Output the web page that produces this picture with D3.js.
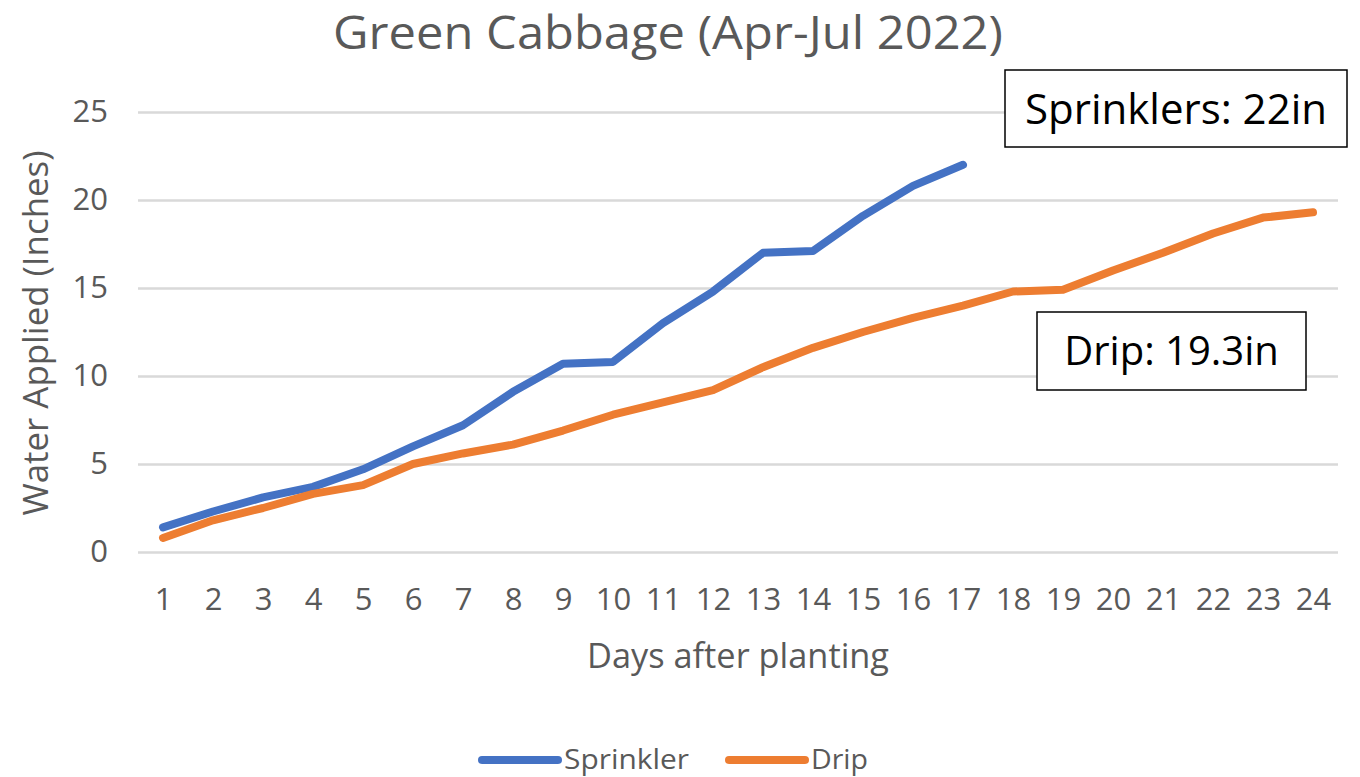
<!DOCTYPE html>
<html>
<head>
<meta charset="utf-8">
<script src="https://cdn.jsdelivr.net/npm/d3@7"></script>
<style>
  body { margin: 0; background: #fff; }
  svg text { font-family: 'Open Sans', sans-serif; }
</style>
</head>
<body>
<div id="container"></div>
<script>
const days = d3.range(1, 25).map(String);
const sprinkler = [1.4, 2.3, 3.1, 3.7, 4.7, 6.0, 7.2, 9.1, 10.7, 10.8, 13.0, 14.8, 17.0, 17.1, 19.1, 20.8, 22.0];
const drip = [0.8, 1.8, 2.5, 3.3, 3.8, 5.0, 5.6, 6.1, 6.9, 7.8, 8.5, 9.2, 10.5, 11.6, 12.5, 13.3, 14.0, 14.8, 14.9, 16.0, 17.0, 18.1, 19.0, 19.3];
const yTicks = [0, 5, 10, 15, 20, 25];
const seriesNames = ['Sprinkler', 'Drip'];
const seriesColors = ['#4472C4', '#ED7D31'];
const notes = ['Sprinklers: 22in', 'Drip: 19.3in'];

const width = 1360;
const height = 777;
const plotLeft = 138;
const plotRight = 1338;
const plotTop = 112;
const plotBottom = 552;
const textColor = '#595959';

const svg = d3
  .select('#container')
  .append('svg')
  .attr('width', width)
  .attr('height', height);

const xScale = d3
  .scalePoint()
  .domain(days)
  .range([plotLeft, plotRight])
  .padding(0.5);

const yScale = d3
  .scaleLinear()
  .domain([0, 25])
  .range([plotBottom, plotTop]);

// gridlines + y labels
const yAxis = d3
  .axisLeft(yScale)
  .tickValues(yTicks)
  .tickSize(-(plotRight - plotLeft))
  .tickPadding(30);

const gy = svg
  .append('g')
  .attr('transform', `translate(${plotLeft}, 0)`)
  .call(yAxis);
gy.select('.domain').remove();
gy.selectAll('line').attr('stroke', '#D9D9D9').attr('stroke-width', 2.5);
gy.selectAll('text')
  .attr('fill', textColor)
  .style('font-size', '31px');

// x labels
const xAxis = d3.axisBottom(xScale).tickSize(0).tickPadding(36);
const gx = svg
  .append('g')
  .attr('transform', `translate(0, ${plotBottom})`)
  .call(xAxis);
gx.select('.domain').remove();
gx.selectAll('text')
  .attr('fill', textColor)
  .style('font-size', '31px');

// lines
const line = d3
  .line()
  .x((d, i) => xScale(days[i]))
  .y(d => yScale(d));

[sprinkler, drip].forEach((s, k) => {
  svg
    .append('path')
    .datum(s)
    .attr('d', line)
    .attr('fill', 'none')
    .attr('stroke', seriesColors[k])
    .attr('stroke-width', 8)
    .attr('stroke-linejoin', 'round')
    .attr('stroke-linecap', 'round');
});

// title
svg
  .append('text')
  .attr('x', 668)
  .attr('y', 49)
  .attr('text-anchor', 'middle')
  .attr('fill', textColor)
  .attr('textLength', 670)
  .attr('lengthAdjust', 'spacingAndGlyphs')
  .style('font-size', '46px')
  .text('Green Cabbage (Apr-Jul 2022)');

// axis titles
svg
  .append('text')
  .attr('x', 738)
  .attr('y', 668)
  .attr('text-anchor', 'middle')
  .attr('fill', textColor)
  .attr('textLength', 302)
  .attr('lengthAdjust', 'spacingAndGlyphs')
  .style('font-size', '35px')
  .text('Days after planting');

svg
  .append('text')
  .attr('transform', 'translate(48, 333) rotate(-90)')
  .attr('text-anchor', 'middle')
  .attr('fill', textColor)
  .attr('textLength', 365)
  .attr('lengthAdjust', 'spacingAndGlyphs')
  .style('font-size', '35px')
  .text('Water Applied (Inches)');

// legend
const legendX = [478, 725];
seriesNames.forEach((name, k) => {
  const g = svg.append('g').attr('transform', `translate(${legendX[k]}, 760)`);
  g.append('line')
    .attr('x1', 4)
    .attr('x2', 80)
    .attr('stroke', seriesColors[k])
    .attr('stroke-width', 8)
    .attr('stroke-linecap', 'round');
  g.append('text')
    .attr('x', 86)
    .attr('y', 9)
    .attr('fill', textColor)
    .attr('textLength', name === 'Drip' ? 57 : 125)
    .attr('lengthAdjust', 'spacingAndGlyphs')
    .style('font-size', '28px')
    .text(name);
});

// note boxes
const noteBoxes = [
  { x: 1005, y: 70, w: 342, h: 77, size: 42 },
  { x: 1037, y: 312, w: 269, h: 78, size: 40 }
];
noteBoxes.forEach((b, k) => {
  svg
    .append('rect')
    .attr('x', b.x)
    .attr('y', b.y)
    .attr('width', b.w)
    .attr('height', b.h)
    .attr('fill', '#fff')
    .attr('stroke', '#000')
    .attr('stroke-width', 1.5);
  svg
    .append('text')
    .attr('x', b.x + b.w / 2)
    .attr('y', b.y + b.h / 2 + b.size * 0.36)
    .attr('text-anchor', 'middle')
    .attr('fill', '#000')
    .style('font-size', `${b.size}px`)
    .text(notes[k]);
});
</script>
</body>
</html>
